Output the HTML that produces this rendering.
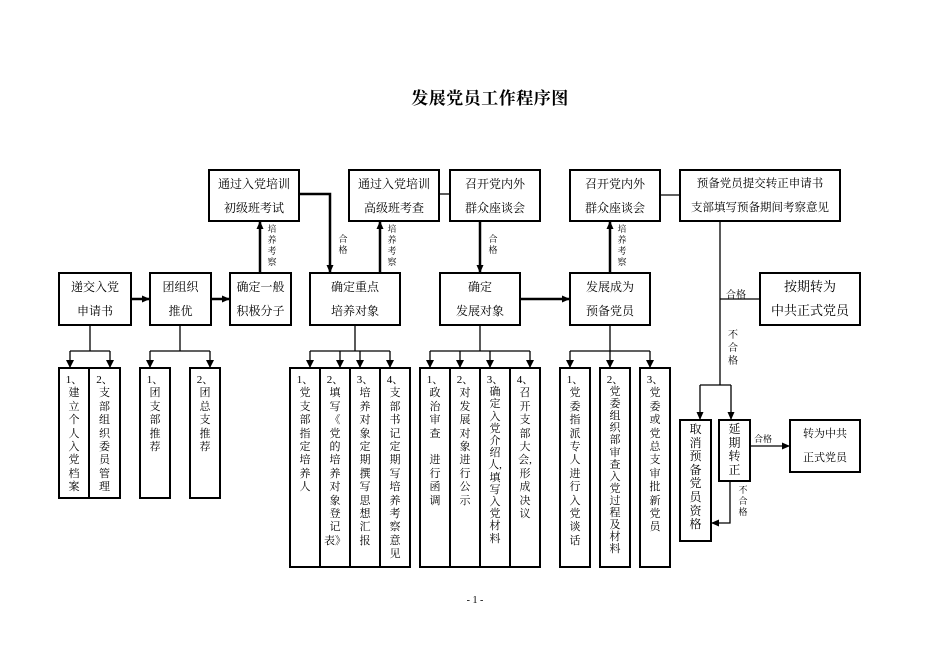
<!DOCTYPE html>
<html><head><meta charset="utf-8"><style>
body{margin:0;background:#fff;}
#w{position:relative;width:936px;height:662px;overflow:hidden;font-family:"Liberation Serif","Noto Serif CJK SC","Noto Sans CJK SC",serif;color:#000;}
.t{position:absolute;text-align:center;white-space:nowrap;}
.b{font-size:12px;line-height:24px;}
.v{position:absolute;font-size:11px;line-height:13.4px;text-align:center;}
.l{position:absolute;font-size:9px;line-height:11px;text-align:center;width:12px;}
</style></head><body><div id="w">
<svg width="936" height="662" style="position:absolute;left:0;top:0">
<defs><marker id="a" markerWidth="8" markerHeight="8" refX="7" refY="4" orient="auto" markerUnits="userSpaceOnUse"><path d="M0,0.5 L8,4 L0,7.5z" fill="#000"/></marker></defs>
<g fill="none" stroke="#000" stroke-width="2">
<rect x="209" y="170" width="90" height="51"/><rect x="349" y="170" width="90" height="51"/><rect x="450" y="170" width="90" height="51"/><rect x="570" y="170" width="90" height="51"/><rect x="680" y="170" width="160" height="51"/>
<rect x="59" y="273" width="72" height="52"/><rect x="150" y="273" width="61" height="52"/><rect x="230" y="273" width="61" height="52"/><rect x="310" y="273" width="90" height="52"/><rect x="440" y="273" width="80" height="52"/><rect x="570" y="273" width="80" height="52"/><rect x="760" y="273" width="100" height="52"/>
<rect x="59" y="368" width="30" height="130"/><rect x="89" y="368" width="31" height="130"/><rect x="140" y="368" width="30" height="130"/><rect x="190" y="368" width="30" height="130"/>
<rect x="290" y="368" width="30" height="199"/><rect x="320" y="368" width="30" height="199"/><rect x="350" y="368" width="30" height="199"/><rect x="380" y="368" width="30" height="199"/>
<rect x="420" y="368" width="30" height="199"/><rect x="450" y="368" width="30" height="199"/><rect x="480" y="368" width="30" height="199"/><rect x="510" y="368" width="30" height="199"/>
<rect x="560" y="368" width="30" height="199"/><rect x="600" y="368" width="30" height="199"/><rect x="640" y="368" width="30" height="199"/>
<rect x="680" y="420" width="31" height="121"/><rect x="719" y="420" width="31" height="61"/><rect x="790" y="420" width="70" height="52"/>
</g>
<g fill="none" stroke="#000" stroke-width="2.5">
<path d="M131,299H149" marker-end="url(#a)"/><path d="M211,299H229" marker-end="url(#a)"/><path d="M520,299H569" marker-end="url(#a)"/>
<path d="M260,273V222" marker-end="url(#a)"/><path d="M299,194H330V272" marker-end="url(#a)"/><path d="M380,273V222" marker-end="url(#a)"/><path d="M480,221V272" marker-end="url(#a)"/><path d="M610,273V222" marker-end="url(#a)"/>
</g>
<g fill="none" stroke="#000" stroke-width="1.3">
<path d="M439,194H450"/><path d="M660,195H680"/>
<path d="M720,221V385"/><path d="M720,299H760"/>
<path d="M700,385H731"/><path d="M700,385V419" marker-end="url(#a)"/><path d="M731,385V419" marker-end="url(#a)"/>
<path d="M750,446H789" marker-end="url(#a)"/><path d="M730,481V523H712" marker-end="url(#a)"/>
<path d="M90,325V351M70,351H110M70,351V367M110,351V367" /><path d="M180,325V351M150,351H210M150,351V367M210,351V367"/>
<path d="M355,325V351M310,351H390M310,351V367M340,351V367M360,351V367M390,351V367"/>
<path d="M480,325V351M430,351H530M430,351V367M460,351V367M490,351V367M530,351V367"/>
<path d="M610,325V351M570,351H650M570,351V367M610,351V367M650,351V367"/>
</g>
<g fill="#000">
<path d="M66,360H74L70,368z"/><path d="M106,360H114L110,368z"/><path d="M146,360H154L150,368z"/><path d="M206,360H214L210,368z"/>
<path d="M306,360H314L310,368z"/><path d="M336,360H344L340,368z"/><path d="M356,360H364L360,368z"/><path d="M386,360H394L390,368z"/>
<path d="M426,360H434L430,368z"/><path d="M456,360H464L460,368z"/><path d="M486,360H494L490,368z"/><path d="M526,360H534L530,368z"/>
<path d="M566,360H574L570,368z"/><path d="M606,360H614L610,368z"/><path d="M646,360H654L650,368z"/>
</g>
</svg>
<div class="t" style="left:380px;top:84px;width:220px;font-size:17px;font-weight:bold;letter-spacing:0.5px">发展党员工作程序图</div>
<div class="t b" style="left:209px;top:172px;width:90px">通过入党培训<br>初级班考试</div>
<div class="t b" style="left:349px;top:172px;width:90px">通过入党培训<br>高级班考查</div>
<div class="t b" style="left:450px;top:172px;width:90px">召开党内外<br>群众座谈会</div>
<div class="t b" style="left:570px;top:172px;width:90px">召开党内外<br>群众座谈会</div>
<div class="t b" style="left:680px;top:172px;width:160px;font-size:11.5px">预备党员提交转正申请书<br>支部填写预备期间考察意见</div>
<div class="t b" style="left:59px;top:275px;width:72px">递交入党<br>申请书</div>
<div class="t b" style="left:150px;top:275px;width:61px">团组织<br>推优</div>
<div class="t b" style="left:230px;top:275px;width:61px">确定一般<br>积极分子</div>
<div class="t b" style="left:310px;top:275px;width:90px">确定重点<br>培养对象</div>
<div class="t b" style="left:440px;top:275px;width:80px">确定<br>发展对象</div>
<div class="t b" style="left:570px;top:275px;width:80px">发展成为<br>预备党员</div>
<div class="t" style="left:760px;top:275px;width:100px;font-size:13px;line-height:24px">按期转为<br>中共正式党员</div>
<div class="t b" style="left:790px;top:422px;width:70px;font-size:11px">转为中共<br>正式党员</div>
<div class="l" style="left:266px;top:224px">培<br>养<br>考<br>察</div>
<div class="l" style="left:337px;top:234px">合<br>格</div>
<div class="l" style="left:386px;top:224px">培<br>养<br>考<br>察</div>
<div class="l" style="left:487px;top:234px">合<br>格</div>
<div class="l" style="left:616px;top:224px">培<br>养<br>考<br>察</div>
<div class="t" style="left:726px;top:286px;font-size:10px">合格</div>
<div class="t" style="left:726px;top:329px;font-size:10px;line-height:13px;width:14px">不<br>合<br>格</div>
<div class="t" style="left:754px;top:432px;font-size:9px">合格</div>
<div class="l" style="left:737px;top:485px">不<br>合<br>格</div>
<div class="v" style="left:59px;top:374px;width:30px">1、<br>建<br>立<br>个<br>人<br>入<br>党<br>档<br>案</div>
<div class="v" style="left:89px;top:374px;width:31px">2、<br>支<br>部<br>组<br>织<br>委<br>员<br>管<br>理</div>
<div class="v" style="left:140px;top:374px;width:30px">1、<br>团<br>支<br>部<br>推<br>荐</div>
<div class="v" style="left:190px;top:374px;width:30px">2、<br>团<br>总<br>支<br>推<br>荐</div>
<div class="v" style="left:290px;top:374px;width:30px">1、<br>党<br>支<br>部<br>指<br>定<br>培<br>养<br>人</div>
<div class="v" style="left:320px;top:374px;width:30px">2、<br>填<br>写<br>《<br>党<br>的<br>培<br>养<br>对<br>象<br>登<br>记<br>表》</div>
<div class="v" style="left:350px;top:374px;width:30px">3、<br>培<br>养<br>对<br>象<br>定<br>期<br>撰<br>写<br>思<br>想<br>汇<br>报</div>
<div class="v" style="left:380px;top:374px;width:30px">4、<br>支<br>部<br>书<br>记<br>定<br>期<br>写<br>培<br>养<br>考<br>察<br>意<br>见</div>
<div class="v" style="left:420px;top:374px;width:30px">1、<br>政<br>治<br>审<br>查<br><br>进<br>行<br>函<br>调</div>
<div class="v" style="left:450px;top:374px;width:30px">2、<br>对<br>发<br>展<br>对<br>象<br>进<br>行<br>公<br>示</div>
<div class="v" style="left:480px;top:374px;width:30px;line-height:12.2px">3、<br>确<br>定<br>入<br>党<br>介<br>绍<br>人,<br>填<br>写<br>入<br>党<br>材<br>料</div>
<div class="v" style="left:510px;top:374px;width:30px">4、<br>召<br>开<br>支<br>部<br>大<br>会,<br>形<br>成<br>决<br>议</div>
<div class="v" style="left:560px;top:374px;width:30px">1、<br>党<br>委<br>指<br>派<br>专<br>人<br>进<br>行<br>入<br>党<br>谈<br>话</div>
<div class="v" style="left:600px;top:374px;width:30px;line-height:12.1px">2、<br>党<br>委<br>组<br>织<br>部<br>审<br>查<br>入<br>党<br>过<br>程<br>及<br>材<br>料</div>
<div class="v" style="left:640px;top:374px;width:30px">3、<br>党<br>委<br>或<br>党<br>总<br>支<br>审<br>批<br>新<br>党<br>员</div>
<div class="v" style="left:680px;top:423px;width:31px;font-size:12px;line-height:13.6px">取<br>消<br>预<br>备<br>党<br>员<br>资<br>格</div>
<div class="v" style="left:719px;top:423px;width:31px;font-size:12px;line-height:13.6px">延<br>期<br>转<br>正</div>
<div class="t" style="left:440px;top:595px;width:70px;font-size:10px">- 1 -</div>
</div></body></html>
